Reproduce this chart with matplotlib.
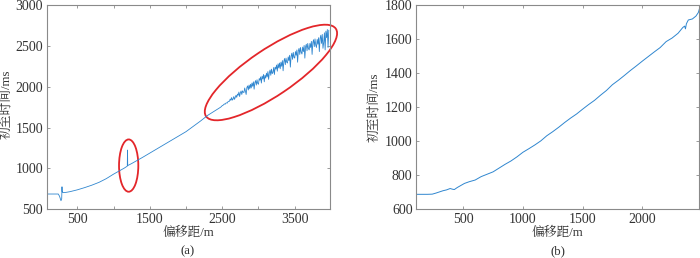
import matplotlib
matplotlib.use("Agg")
import matplotlib.pyplot as plt
from matplotlib.patches import Ellipse
from matplotlib.transforms import Affine2D

plt.rcParams['font.family'] = ['Liberation Serif', 'Noto Serif CJK SC', 'Noto Sans CJK SC']
plt.rcParams['axes.unicode_minus'] = False

# ---------------- data: panel (a) ----------------
off_a_smooth = [78, 79, 82, 150, 238, 255, 275, 285, 289, 291, 300, 310, 350, 400, 500,
                600, 700, 800, 900, 1000, 1100, 1150, 1190, 1193, 1196, 1250, 1300, 1400,
                1500, 1600, 1700, 1800, 1900, 2000, 2100, 2200, 2300, 2390]
t_a_smooth = [560, 640, 687, 687, 687, 660, 605, 630, 775, 720, 706, 704, 708, 716, 738,
              765, 795, 830, 875, 930, 980, 1005, 1028, 1225, 1035, 1060, 1085, 1135,
              1188, 1240, 1292, 1345, 1398, 1450, 1515, 1580, 1650, 1700]

off_a_noisy = list(range(2400, 3980, 10))
t_a_noisy = [
    1705, 1712, 1716, 1722, 1729, 1733, 1740, 1745, 1752, 1758,
    1770, 1772, 1781, 1790, 1786, 1799, 1803, 1800, 1818, 1822,
    1822, 1850, 1833, 1868, 1836, 1850, 1880, 1845, 1872, 1895,
    1870, 1910, 1895, 1935, 1880, 1925, 1948, 1905, 1950, 1932,
    1930, 1985, 1945, 1905, 1990, 2010, 1960, 2020, 1975, 2030,
    1985, 2045, 2005, 2060, 1970, 2050, 2075, 2020, 2085, 2040,
    2030, 2100, 2080, 2120, 2045, 2130, 2095, 2150, 2060, 2140,
    2105, 2165, 2120, 2185, 2090, 2170, 2205, 2140, 2215, 2160,
    2175, 2235, 2150, 2240, 2215, 2265, 2190, 2280, 2230, 2290,
    2220, 2300, 2250, 2320, 2195, 2310, 2345, 2270, 2350, 2300,
    2290, 2365, 2320, 2385, 2240, 2370, 2410, 2335, 2420, 2360,
    2350, 2430, 2385, 2450, 2300, 2440, 2470, 2395, 2480, 2420,
    2400, 2485, 2430, 2505, 2350, 2490, 2520, 2440, 2530, 2465,
    2450, 2530, 2480, 2555, 2395, 2540, 2575, 2490, 2585, 2510,
    2480, 2580, 2520, 2600, 2430, 2590, 2630, 2530, 2640, 2470,
    2540, 2660, 2450, 2680, 2600, 2700, 2480, 2690]

off_a = off_a_smooth + off_a_noisy
t_a = t_a_smooth + t_a_noisy

# ---------------- data: panel (b) ----------------
off_b = [104, 150, 200, 240, 270, 300, 330, 360, 390, 410, 425, 450, 480, 510, 550, 600,
         650, 700, 750, 800, 850, 900, 950, 1000, 1050, 1100, 1150, 1200, 1250, 1300,
         1350, 1400, 1450, 1500, 1550, 1600, 1650, 1700, 1750, 1800, 1850, 1900, 1950,
         2000, 2050, 2100, 2150, 2200, 2250, 2300, 2340, 2355, 2362, 2370, 2386, 2420,
         2450, 2470, 2478]
t_b = [688, 688, 688, 689, 695, 702, 709, 714, 722, 718, 716, 728, 740, 752, 762, 772,
       792, 806, 820, 842, 864, 884, 908, 935, 956, 978, 1002, 1032, 1056, 1082,
       1110, 1136, 1160, 1188, 1215, 1240, 1270, 1298, 1332, 1358, 1386, 1415, 1442,
       1470, 1497, 1524, 1550, 1585, 1606, 1634, 1668, 1676, 1660, 1690, 1712, 1718,
       1735, 1756, 1775]

xticks_a = [500, 1000, 1500, 2000, 2500, 3000, 3500]
xticklabels_a = ['500', '', '1500', '', '2500', '', '3500']
yticks_a = [500, 1000, 1500, 2000, 2500, 3000]
xticks_b = [500, 1000, 1500, 2000]
yticks_b = [600, 800, 1000, 1200, 1400, 1600, 1800]

LINE = '#2f86cf'
SPINE = '#8a8a8a'
TXT = '#333333'
RED = '#e3262a'
FS = 10
FSL = 9.2

fig = plt.figure(figsize=(7.0, 2.58), dpi=100)
ax1 = fig.add_axes([46.7 / 700, 1 - 209.3 / 258, (330 - 46.7) / 700, 204.3 / 258])
ax2 = fig.add_axes([416 / 700, 1 - 209.3 / 258, (699.3 - 416) / 700, 204.3 / 258])


def style(ax):
    for s in ax.spines.values():
        s.set_color(SPINE)
        s.set_linewidth(0.8)
    ax.tick_params(direction='in', length=2.5, width=0.6, color=SPINE,
                   top=True, right=True, labelsize=FS, labelcolor=TXT, pad=2.5)


ax1.plot(off_a, t_a, color=LINE, lw=0.6)
ax1.set_xlim(78, 3987)
ax1.set_ylim(500, 3000)
ax1.set_xticks(xticks_a)
ax1.set_xticklabels(xticklabels_a)
ax1.set_yticks(yticks_a)
style(ax1)

# red ellipses (annotation)
ax1.add_patch(Ellipse((1209, 1035), 266, 640, fill=False, ec=RED, lw=1.3))
tr = Affine2D().scale(1 / 0.0725, 1 / 0.0817).translate(3172, 2174) + ax1.transData
ax1.add_patch(Ellipse((0, 0), 2 * 78.3, 2 * 23.1, angle=34, fill=False, ec=RED,
                      lw=1.3, transform=tr, clip_on=False))

ax2.plot(off_b, t_b, color=LINE, lw=0.7)
ax2.set_xlim(104, 2478)
ax2.set_ylim(600, 1800)
ax2.set_xticks(xticks_b)
ax2.set_yticks(yticks_b)
style(ax2)

# labels
fig.text(188 / 700, 1 - 233 / 258, '偏移距/m', ha='center', va='center', fontsize=FSL, color=TXT)
fig.text(188 / 700, 1 - 251.5 / 258, '(a)', ha='center', va='center', fontsize=FSL, color=TXT)
fig.text(7.5 / 700, 1 - 104 / 258, '初至时间/ms', ha='center', va='center', rotation=90,
         fontsize=FSL, color=TXT)
fig.text(557.5 / 700, 1 - 233 / 258, '偏移距/m', ha='center', va='center', fontsize=FSL, color=TXT)
fig.text(557.5 / 700, 1 - 251.5 / 258, '(b)', ha='center', va='center', fontsize=FSL, color=TXT)
fig.text(375 / 700, 1 - 107 / 258, '初至时间/ms', ha='center', va='center', rotation=90,
         fontsize=FSL, color=TXT)

fig.savefig('out.png', dpi=100)
